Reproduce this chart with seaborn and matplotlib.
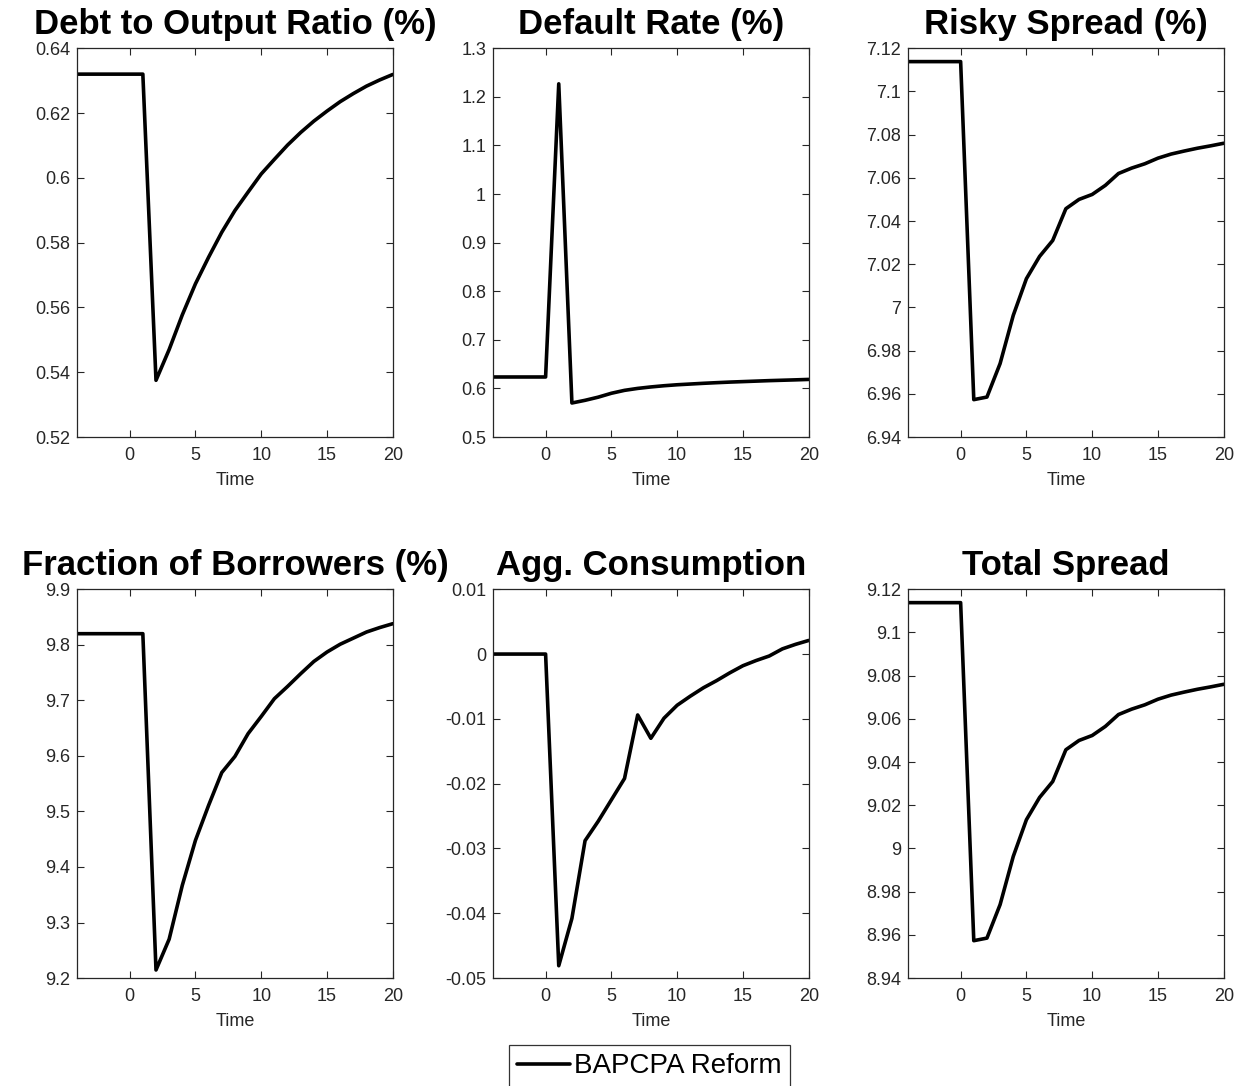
import matplotlib
matplotlib.use("Agg")
import pandas as pd
import seaborn as sns
import matplotlib.pyplot as plt
from matplotlib.ticker import FormatStrFormatter

# --- data (t = -4 .. 20) ---
time = list(range(-4, 21))

debt_ratio = [0.632] * 6 + [
    0.5375, 0.5470, 0.5577, 0.5673, 0.5755, 0.5832, 0.5899, 0.5956, 0.6012, 0.6057,
    0.6101, 0.6140, 0.6175, 0.6206, 0.6235, 0.6260, 0.6283, 0.6302, 0.6319]

default_rate = [0.6235] * 5 + [1.2267] + [
    0.570, 0.5755, 0.582, 0.590, 0.596, 0.600, 0.603, 0.6055, 0.6075, 0.609,
    0.6105, 0.6118, 0.613, 0.614, 0.615, 0.616, 0.6168, 0.6176, 0.6185]

risky_spread = [7.1138] * 5 + [
    6.9573, 6.9585, 6.974, 6.9963, 7.0133, 7.0236, 7.031, 7.0457, 7.050, 7.0523,
    7.0565, 7.062, 7.0645, 7.0665, 7.0691, 7.071, 7.0724, 7.0737, 7.0748, 7.076]

frac_borrowers = [9.82] * 6 + [
    9.2145, 9.27, 9.367, 9.448, 9.511, 9.570, 9.599, 9.640, 9.671, 9.703,
    9.725, 9.748, 9.770, 9.787, 9.801, 9.812, 9.823, 9.831, 9.838]

agg_consumption = [0.0] * 5 + [
    -0.0481, -0.0408, -0.0288, -0.0258, -0.0225, -0.0192, -0.0094, -0.0130, -0.0099, -0.0079,
    -0.0065, -0.0052, -0.0041, -0.0029, -0.0018, -0.0010, -0.0003, 0.0008, 0.0015, 0.0021]

total_spread = [9.1138] * 5 + [
    8.9573, 8.9585, 8.974, 8.9963, 9.0133, 9.0236, 9.031, 9.0457, 9.050, 9.0523,
    9.0565, 9.062, 9.0645, 9.0665, 9.0691, 9.071, 9.0724, 9.0737, 9.0748, 9.076]

titles = ["Debt to Output Ratio (%)", "Default Rate (%)", "Risky Spread (%)",
          "Fraction of Borrowers (%)", "Agg. Consumption", "Total Spread"]
series = [debt_ratio, default_rate, risky_spread,
          frac_borrowers, agg_consumption, total_spread]
yticks = [
    [0.52, 0.54, 0.56, 0.58, 0.6, 0.62, 0.64],
    [0.5, 0.6, 0.7, 0.8, 0.9, 1, 1.1, 1.2, 1.3],
    [6.94, 6.96, 6.98, 7, 7.02, 7.04, 7.06, 7.08, 7.1, 7.12],
    [9.2, 9.3, 9.4, 9.5, 9.6, 9.7, 9.8, 9.9],
    [-0.05, -0.04, -0.03, -0.02, -0.01, 0, 0.01],
    [8.94, 8.96, 8.98, 9, 9.02, 9.04, 9.06, 9.08, 9.1, 9.12],
]
xticks = [0, 5, 10, 15, 20]
legend_label = "BAPCPA Reform"

sns.set_style("ticks")
plt.rcParams['font.family'] = ['Liberation Sans', 'DejaVu Sans']
plt.rcParams['axes.unicode_minus'] = False

fig = plt.figure(figsize=(12.43, 10.86), dpi=100)

# axes boxes in figure fractions (MATLAB-like 2x3 grid)
lefts = [0.062, 0.3966, 0.7305]
bottoms = [0.5976, 0.0994]
width, height = 0.254, 0.358

gray = "#262626"
for i, (title, vals, yt) in enumerate(zip(titles, series, yticks)):
    row, col = divmod(i, 3)
    ax = fig.add_axes([lefts[col], bottoms[row], width, height])
    df = pd.DataFrame({"Time": time, "value": vals})
    sns.lineplot(data=df, x="Time", y="value", ax=ax, color="black",
                 linewidth=2.6, label=legend_label if i == 0 else None)
    ax.set_xlim(-4, 20)
    ax.set_ylim(yt[0], yt[-1])
    ax.set_xticks(xticks)
    ax.set_yticks(yt)
    ax.yaxis.set_major_formatter(FormatStrFormatter('%g'))
    ax.set_title(title, fontsize=25, fontweight="bold", pad=10, color="black")
    ax.set_xlabel("Time", fontsize=13, color=gray, labelpad=6)
    ax.set_ylabel("")
    ax.tick_params(direction="in", top=True, right=True, length=5,
                   labelsize=13, colors=gray, width=0.8)
    ax.tick_params(axis="x", pad=7)
    ax.tick_params(axis="y", pad=5)
    for sp in ax.spines.values():
        sp.set_visible(True)
        sp.set_color(gray)
        sp.set_linewidth(0.9)
    if ax.get_legend() is not None:
        handles, labels = ax.get_legend_handles_labels()
        ax.get_legend().remove()

leg = fig.legend(handles, labels, loc="upper center",
                 bbox_to_anchor=(0.5225, 1 - 1045 / 1086),
                 fontsize=20, frameon=True, fancybox=False,
                 handlelength=1.9, handletextpad=0.15, borderpad=0.3,
                 borderaxespad=0, labelcolor="black")
leg.get_frame().set_edgecolor("black")
leg.get_frame().set_linewidth(0.9)

fig.savefig("out.png", dpi=100)
